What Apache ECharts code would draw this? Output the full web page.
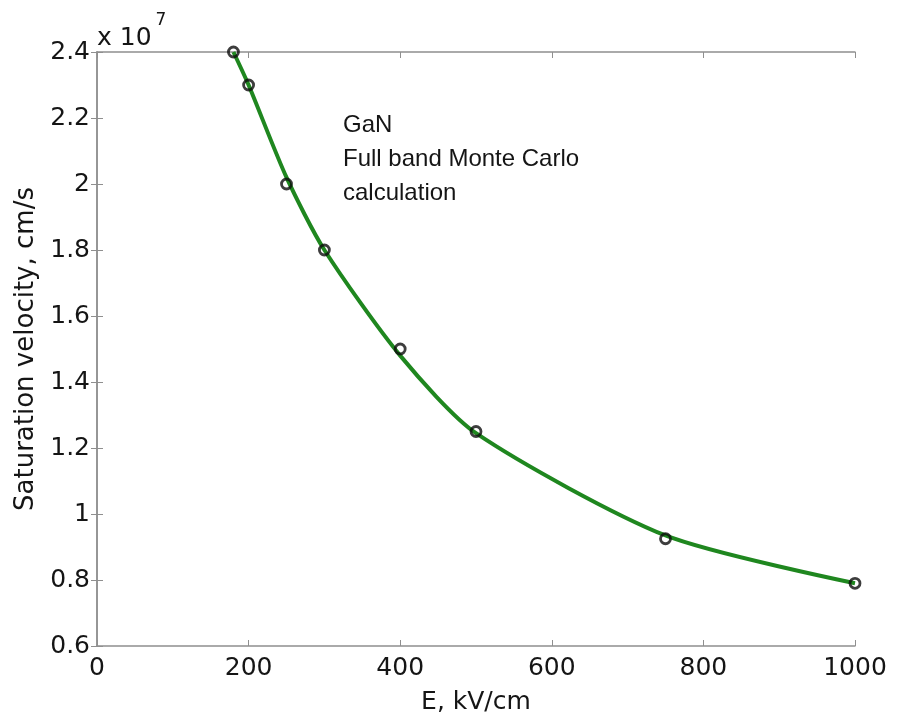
<!DOCTYPE html>
<html>
<head>
<meta charset="utf-8">
<script src="https://cdn.jsdelivr.net/npm/echarts@6/dist/echarts.min.js"></script>
<style>html,body{margin:0;padding:0;background:#fff;}#c{width:897px;height:715px;}</style>
</head>
<body>
<div id="c"></div>
<script>
// Data (velocity in units of 1e7 cm/s)
const fieldE = [180, 200, 250, 300, 400, 500, 750, 1000];
const velocity = [2.40, 2.30, 2.00, 1.80, 1.50, 1.25, 0.925, 0.79];
const fitVelocity = [2.40, 2.30, 2.02, 1.80, 1.48, 1.245, 0.935, 0.79];
const xTicks = [0, 200, 400, 600, 800, 1000];
const yTicks = [0.6, 0.8, 1, 1.2, 1.4, 1.6, 1.8, 2, 2.2, 2.4];
const noteLines = ['GaN', 'Full band Monte Carlo', 'calculation'];

const axisFont = 'DejaVu Sans, sans-serif';
const noteFont = 'Liberation Sans, Arial, Helvetica, sans-serif';
const axisGray = '#8f8f8f';
const textColor = '#151515';

const chart = echarts.init(document.getElementById('c'));
const baseAxis = {
  axisLine: { show: true, lineStyle: { color: axisGray, width: 1.5 } },
  axisTick: { show: true, inside: true, length: 6, lineStyle: { color: axisGray, width: 1 } },
  splitLine: { show: false }
};
chart.setOption({
  animation: false,
  backgroundColor: '#fff',
  grid: { left: 97, right: 42, top: 52, bottom: 69, containLabel: false, outerBoundsMode: 'none' },
  xAxis: [
    Object.assign({}, baseAxis, {
      type: 'value', min: xTicks[0], max: xTicks[xTicks.length - 1], interval: 200,
      name: 'E, kV/cm', nameLocation: 'middle', nameGap: 44,
      nameTextStyle: { fontFamily: axisFont, fontSize: 25, color: textColor },
      axisLabel: { fontFamily: axisFont, fontSize: 25, color: textColor, margin: 10,
        formatter: v => String(v) }
    }),
    Object.assign({}, baseAxis, {
      type: 'value', position: 'top', min: xTicks[0], max: xTicks[xTicks.length - 1], interval: 200,
      axisLabel: { show: false }
    })
  ],
  yAxis: [
    Object.assign({}, baseAxis, {
      type: 'value', min: yTicks[0], max: yTicks[yTicks.length - 1], interval: 0.2,
      name: 'Saturation velocity, cm/s', nameLocation: 'middle', nameGap: 53, nameRotate: 90,
      nameTextStyle: { fontFamily: axisFont, fontSize: 26, color: textColor },
      axisLabel: { fontFamily: axisFont, fontSize: 25, color: textColor, margin: 7,
        formatter: v => String(Math.round(v * 10) / 10) }
    }),
    Object.assign({}, baseAxis, {
      type: 'value', position: 'right', min: yTicks[0], max: yTicks[yTicks.length - 1], interval: 0.2,
      axisLabel: { show: false }
    })
  ],
  series: [
    {
      type: 'line', name: 'fit',
      data: fieldE.map((x, i) => [x, fitVelocity[i]]),
      smooth: 0.25, showSymbol: false, symbol: 'none',
      lineStyle: { color: '#1f871f', width: 4 },
      z: 2
    },
    {
      type: 'scatter', name: 'Monte Carlo',
      data: fieldE.map((x, i) => [x, velocity[i]]),
      symbol: 'circle', symbolSize: 10,
      itemStyle: { color: 'rgba(0,0,0,0)', borderColor: '#0d0d0d', borderWidth: 2.8 },
      z: 3
    }
  ],
  graphic: [
    {
      type: 'text', left: 97, top: 12,
      style: {
        text: '{a|x 10}{b|7}',
        rich: {
          a: { fontFamily: axisFont, fontSize: 25, fill: textColor, verticalAlign: 'bottom', padding: [14, 0, 0, 0] },
          b: { fontFamily: axisFont, fontSize: 17, fill: textColor, verticalAlign: 'top', padding: [0, 0, 14, 4] }
        }
      }
    },
    {
      type: 'text', left: 343, top: 108,
      style: {
        text: noteLines.join('\n'),
        fontFamily: noteFont, fontSize: 24, fill: textColor, lineHeight: 34
      }
    }
  ]
});
</script>
</body>
</html>
